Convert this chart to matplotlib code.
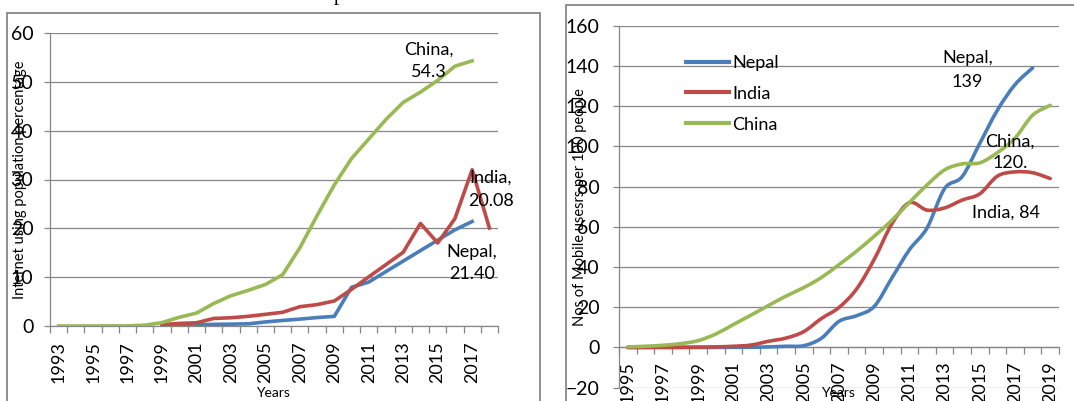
import numpy as np
import matplotlib
matplotlib.use("Agg")
import matplotlib.pyplot as plt
from matplotlib.path import Path
from matplotlib.patches import PathPatch, Rectangle
from matplotlib.lines import Line2D

plt.rcParams['font.family'] = ['Lato', 'DejaVu Sans']

# ---- Internet users (% of population) ----
net_years = list(range(1993, 2019))
net_china = [0, 0.001, 0.005, 0.03, 0.03, 0.17, 0.7, 1.78, 2.64, 4.6, 6.2, 7.3,
             8.5, 10.5, 16.0, 22.6, 28.9, 34.3, 38.3, 42.3, 45.8, 47.9, 50.3,
             53.2, 54.3, None]
net_india = [None, None, None, None, None, None, 0.28, 0.53, 0.66, 1.54, 1.69,
             1.98, 2.39, 2.81, 3.95, 4.38, 5.12, 7.5, 10.07, 12.58, 15.1, 21.0,
             17.0, 22.0, 32.0, 20.08]
net_nepal = [None, None, None, None, None, None, 0.02, 0.2, 0.24, 0.34, 0.38,
             0.45, 0.83, 1.14, 1.41, 1.73, 1.97, 7.93, 9.0, 11.15, 13.3, 15.44,
             17.58, 19.69, 21.4, None]

# ---- Mobile subscriptions per 100 people ----
mob_years = list(range(1995, 2020))
mob_nepal = [0, 0, 0, 0, 0, 0.04, 0.08, 0.1, 0.3, 0.6, 0.9, 4.6, 13.0, 15.8,
             20.4, 34.5, 48.6, 59.4, 79.0, 85.0, 101.5, 118.0, 130.7, 139.0, None]
mob_india = [0.01, 0.03, 0.09, 0.1, 0.2, 0.3, 0.6, 1.2, 3.1, 4.7, 7.9, 14.4,
             19.9, 29.1, 43.8, 61.4, 72.0, 68.3, 69.4, 73.3, 76.4, 85.2, 87.3,
             86.9, 84.0]
mob_china = [0.3, 0.6, 1.1, 1.9, 3.4, 6.7, 11.4, 16.1, 20.9, 25.6, 29.8, 34.8,
             41.2, 47.9, 55.3, 63.2, 72.1, 80.8, 88.3, 91.3, 91.8, 96.9, 104.1,
             115.5, 120.4]

BLUE, RED, GREEN = '#4A7EBB', '#BE4B48', '#98B954'
GRID = '#878787'
W, H = 1074, 401


def fx(px):
    return px / W


def fy(py):
    return 1 - py / H


def series_xy(vals):
    xs = [i for i, v in enumerate(vals) if v is not None]
    ys = [v for v in vals if v is not None]
    return np.array(xs, float), np.array(ys, float)


def smooth_path(xs, ys):
    # Cardinal-spline style Bezier through the data points
    pts = np.column_stack([xs, ys])
    verts = [pts[0]]
    codes = [Path.MOVETO]
    n = len(pts)
    for i in range(n - 1):
        p0 = pts[max(i - 1, 0)]
        p1 = pts[i]
        p2 = pts[i + 1]
        p3 = pts[min(i + 2, n - 1)]
        c1 = p1 + (p2 - p0) / 6.0
        c2 = p2 - (p3 - p1) / 6.0
        verts += [c1, c2, p2]
        codes += [Path.CURVE4] * 3
    return Path(verts, codes)


fig = plt.figure(figsize=(W / 100, H / 100), dpi=100)

# panel frames
fig.patches.append(Rectangle((fx(7), fy(420)), fx(540 - 7), (420 - 13) / H,
                             transform=fig.transFigure, fill=False,
                             edgecolor=GRID, lw=1.3, clip_on=False))
fig.patches.append(Rectangle((fx(566), fy(420)), fx(600), (420 - 5) / H,
                             transform=fig.transFigure, fill=False,
                             edgecolor=GRID, lw=1.3, clip_on=False))

# partial heading at the top edge
fig.text(fx(339), fy(0), 'p', family='Liberation Serif', fontsize=15,
         ha='center', va='baseline')

TICK_FS = 14
XT_FS = 13
ANN_FS = 13

# ================= Left panel =================
ax1 = fig.add_axes([fx(50), fy(326), fx(498 - 50), (326 - 33) / H])
n1 = len(net_years)
for vals, col in [(net_nepal, BLUE), (net_india, RED), (net_china, GREEN)]:
    xs, ys = series_xy(vals)
    ax1.plot(xs, ys, color=col, lw=2.6, solid_joinstyle='round', zorder=3)
ax1.set_xlim(-0.5, n1 - 0.5)
ax1.set_ylim(0, 60)
ax1.set_yticks(range(0, 61, 10))
ax1.yaxis.grid(True, color=GRID, lw=0.9)
ax1.set_axisbelow(True)
for s in ['top', 'right']:
    ax1.spines[s].set_visible(False)
for s in ['left', 'bottom']:
    ax1.spines[s].set_color(GRID)
    ax1.spines[s].set_linewidth(0.9)
ax1.set_xticks(np.arange(-0.5, n1, 1), minor=True)
ax1.set_xticks(range(0, n1, 2))
ax1.set_xticklabels([str(y) for y in net_years[::2]], rotation=90,
                    fontsize=XT_FS)
ax1.tick_params(axis='x', which='major', length=0, pad=11)
ax1.tick_params(axis='x', which='minor', length=5, color=GRID, width=0.9)
ax1.tick_params(axis='y', length=4, color=GRID, width=0.9,
                labelsize=TICK_FS, pad=8)

ax1.text(21.5, 54.3, 'China,\n54.3', ha='center', va='center', fontsize=ANN_FS,
         linespacing=1.5)
ax1.text(25.1, 28.0, 'India,\n20.08', ha='center', va='center',
         fontsize=ANN_FS, linespacing=1.5, clip_on=False)
ax1.text(24.0, 12.9, 'Nepal,\n21.40', ha='center', va='center',
         fontsize=ANN_FS, linespacing=1.5)

fig.text(fx(273), fy(393), 'Years', ha='center', va='center', fontsize=10)
fig.text(fx(20), fy(180), 'Internet using population percentage', rotation=90,
         ha='center', va='center', fontsize=10.5)

# ================= Right panel =================
ax2 = fig.add_axes([fx(619), fy(387.7), fx(1059 - 619), (387.7 - 25.7) / H])
n2 = len(mob_years)
for vals, col in [(mob_nepal, BLUE), (mob_india, RED), (mob_china, GREEN)]:
    xs, ys = series_xy(vals)
    ax2.add_patch(PathPatch(smooth_path(xs, ys), fill=False, edgecolor=col,
                            lw=2.6, capstyle='round', joinstyle='round',
                            zorder=3))
ax2.set_xlim(-0.5, n2 - 0.5)
ax2.set_ylim(-20, 160)
ax2.set_yticks(range(-20, 161, 20))
ax2.yaxis.grid(True, color=GRID, lw=0.9)
ax2.set_axisbelow(True)
for s in ['top', 'right']:
    ax2.spines[s].set_visible(False)
ax2.spines['bottom'].set_position(('data', 0))
for s in ['left', 'bottom']:
    ax2.spines[s].set_color(GRID)
    ax2.spines[s].set_linewidth(0.9)
ax2.set_xticks(np.arange(-0.5, n2, 1), minor=True)
ax2.set_xticks(range(0, n2, 2))
ax2.set_xticklabels([str(y) for y in mob_years[::2]], rotation=90,
                    fontsize=XT_FS)
ax2.tick_params(axis='x', which='major', length=0, pad=10)
ax2.tick_params(axis='x', which='minor', length=5, color=GRID, width=0.9)
ax2.tick_params(axis='y', length=4, color=GRID, width=0.9,
                labelsize=TICK_FS, pad=10)

handles = [Line2D([], [], color=c, lw=3) for c in (BLUE, RED, GREEN)]
fig.legend(handles, ['Nepal', 'India', 'China'], loc='upper left',
           bbox_to_anchor=(fx(686), fy(55)), frameon=False, fontsize=13,
           handlelength=2.4, handletextpad=0.15, labelspacing=0.82,
           borderpad=0, borderaxespad=0)

ax2.text(19.3, 138, 'Nepal,\n139', ha='center', va='center', fontsize=ANN_FS,
         linespacing=1.55)
ax2.text(21.7, 97, 'China,\n120.', ha='center', va='center', fontsize=ANN_FS,
         linespacing=1.45)
ax2.text(21.5, 67, 'India, 84', ha='center', va='center', fontsize=ANN_FS)

fig.text(fx(838), fy(393), 'Years', ha='center', va='center', fontsize=10)
fig.text(fx(580), fy(207), 'Nos of Mobile usesrs per 100 people', rotation=90,
         ha='center', va='center', fontsize=10.5)

fig.savefig('out.png', dpi=100)
